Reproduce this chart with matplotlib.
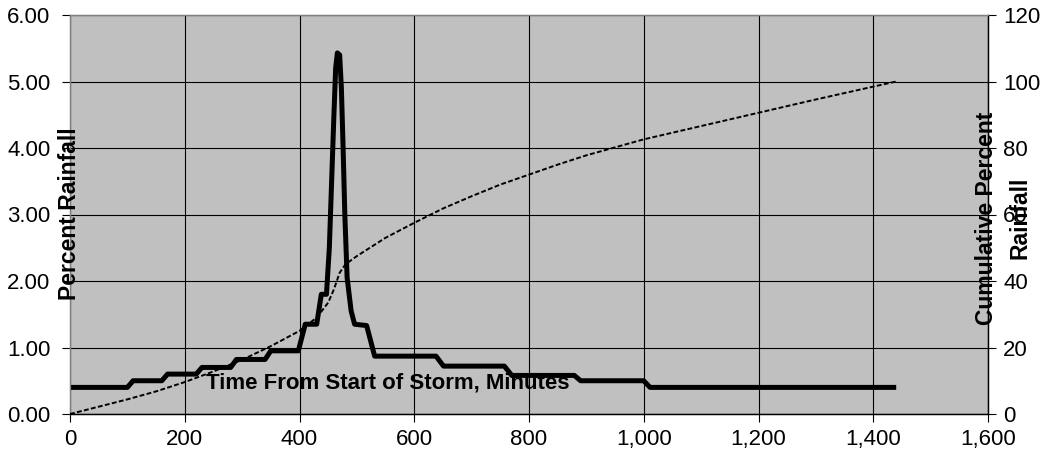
import matplotlib.pyplot as plt
from matplotlib.ticker import FuncFormatter, FormatStrFormatter, MultipleLocator

plt.rcParams['font.family'] = ['Liberation Sans', 'DejaVu Sans']

# percent rainfall per time step
minutes = [0, 100, 110, 160, 170, 220, 230, 280, 290, 340, 350, 398, 410, 430, 438,
           447, 452, 456, 460, 463, 466, 470, 473, 476, 479, 483, 490, 496, 517, 531,
           638, 651, 757, 770, 879, 890, 1000, 1011, 1440]
percent = [0.40, 0.40, 0.50, 0.50, 0.60, 0.60, 0.70, 0.70, 0.82, 0.82, 0.95, 0.95, 1.35, 1.35, 1.80,
           1.80, 2.50, 3.50, 4.50, 5.20, 5.43, 5.40, 4.90, 4.00, 3.00, 2.05, 1.55, 1.35, 1.33, 0.87,
           0.87, 0.72, 0.72, 0.58, 0.58, 0.50, 0.50, 0.40, 0.40]

# cumulative percent rainfall
cum_minutes = [0, 50, 100, 150, 200, 250, 300, 350, 400, 430, 450, 460, 470, 480, 500,
               550, 600, 650, 700, 750, 800, 850, 900, 950, 1000, 1100, 1200, 1300, 1440]
cum_percent = [0, 2.2, 4.4, 6.8, 9.6, 12.8, 16.3, 20.4, 25.0, 29.0, 33.5, 37.5, 42.5, 45.0, 47.5,
               53.0, 57.5, 61.8, 65.5, 69.0, 72.0, 75.0, 77.8, 80.2, 82.6, 86.6, 90.6, 94.6, 100]

W, H = 1045, 472
fig = plt.figure(figsize=(W / 100, H / 100), dpi=100)
ax = fig.add_axes([70 / W, 1 - 414 / H, 918 / W, 399 / H])
ax.set_facecolor('#c0c0c0')

ax.plot(minutes, percent, color='black', lw=3.6, solid_joinstyle='round',
        solid_capstyle='butt', zorder=3)

ax.set_xlim(0, 1600)
ax.set_ylim(0, 6)
ax.xaxis.set_major_locator(MultipleLocator(200))
ax.yaxis.set_major_locator(MultipleLocator(1))
ax.xaxis.set_major_formatter(FuncFormatter(lambda v, p: f'{int(v):,}'))
ax.yaxis.set_major_formatter(FormatStrFormatter('%.2f'))
ax.grid(True, color='black', lw=0.8)
ax.set_axisbelow(True)
ax.tick_params(axis='both', direction='out', length=6, width=0.8, labelsize=16, color='black')
ax.tick_params(axis='x', pad=5)
ax.tick_params(axis='y', pad=8)

ax2 = ax.twinx()
ax2.plot(cum_minutes, cum_percent, color='black', lw=1.4, ls=(0, (2.5, 1.2)), zorder=4)
ax2.set_ylim(0, 120)
ax2.yaxis.set_major_locator(MultipleLocator(20))
ax2.tick_params(axis='y', direction='out', length=6, width=0.8, labelsize=16, pad=5)

for a in (ax, ax2):
    a.spines['top'].set_color('#808080')
    a.spines['left'].set_color('#808080')
    a.spines['right'].set_color('black')
    a.spines['bottom'].set_color('black')
    for s in a.spines.values():
        s.set_linewidth(0.9)

fig.text(70 / W, 1 - 214 / H, 'Percent Rainfall', rotation=90, ha='center', va='center',
         fontsize=16.5, fontweight='bold')
fig.text(1003 / W, 1 - 218 / H, 'Cumulative Percent\nRainfall', rotation=90, ha='center',
         va='center', multialignment='center', linespacing=1.6, fontsize=16.5, fontweight='bold')
fig.text(388 / W, 1 - 383 / H, 'Time From Start of Storm, Minutes', ha='center', va='center',
         fontsize=16, fontweight='bold')

fig.savefig('out.png', dpi=100)
